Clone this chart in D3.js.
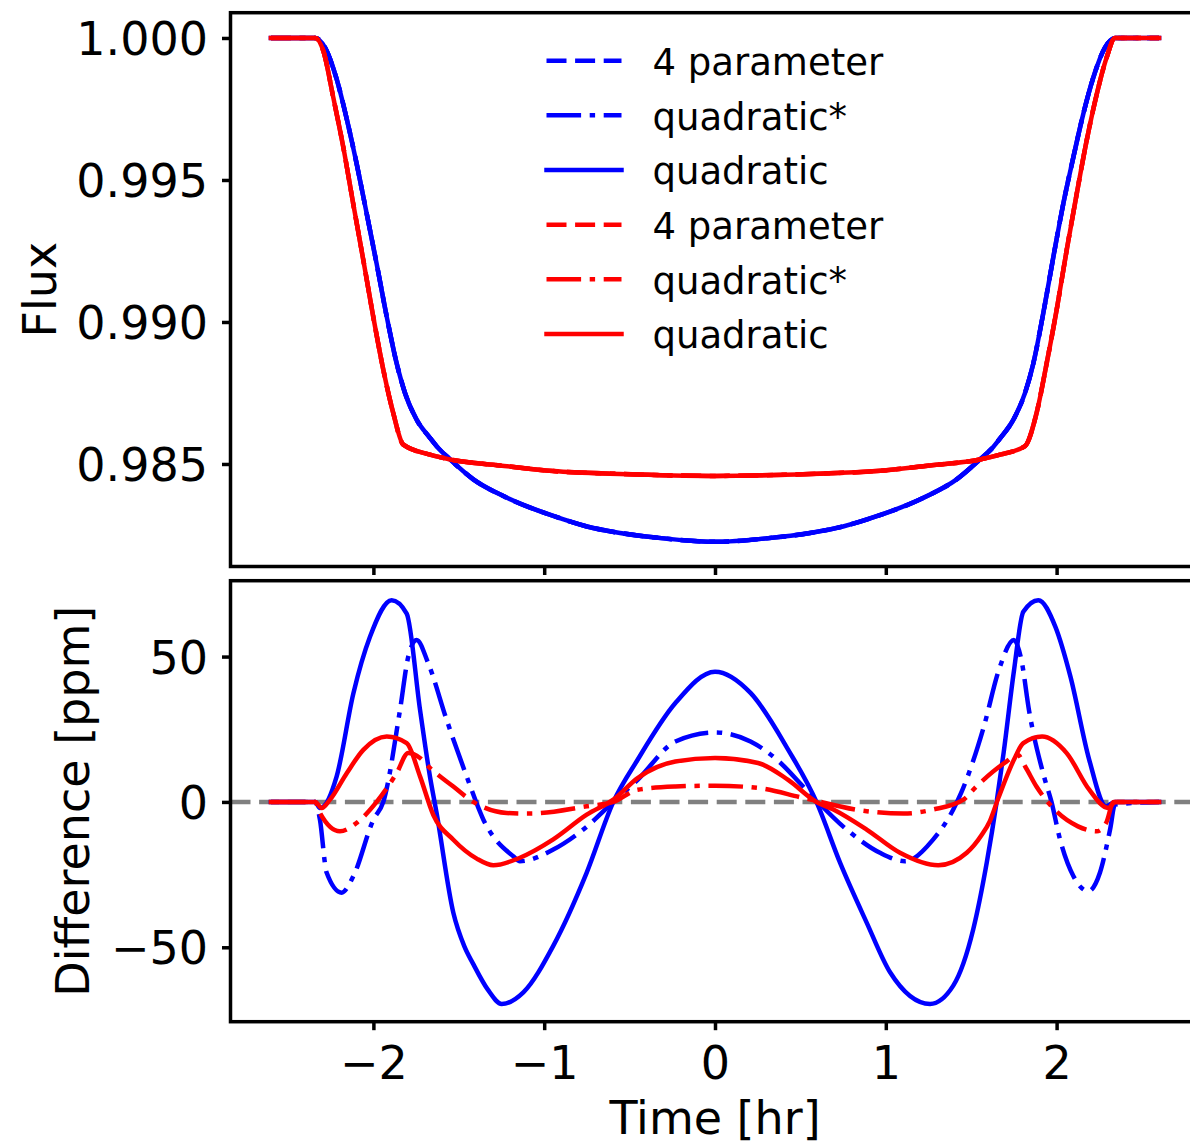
<!DOCTYPE html>
<html>
<head>
<meta charset="utf-8">
<script src="https://cdn.jsdelivr.net/npm/d3@7"></script>
<style>
    body { margin: 0; background: #fff; }
    svg text { font-family: "DejaVu Sans", sans-serif; fill: #000; }
</style>
</head>
<body>
<div id="chart"></div>
<script>
// ---- values ----
const timeTicks = [-2, -1, 0, 1, 2];
const fluxTicks = [1.000, 0.995, 0.990, 0.985];
const diffTicks = [-50, 0, 50];

// light curves (top panel), time in hr
const blueFluxTime = [-2.6, -2.34, -2.283, -2.215, -2.156, -2.098, -2.039, -1.981, -1.922, -1.864, -1.815, -1.747,
    -1.669, -1.629, -1.551, -1.415, -1.239, -0.947, -0.75, -0.556, -0.3, 0,
    0.3, 0.556, 0.75, 0.947, 1.239, 1.415, 1.551, 1.629, 1.669, 1.747, 1.815, 1.864, 1.922, 1.981, 2.039, 2.098,
    2.156, 2.215, 2.283, 2.342, 2.6];
const blueFlux = [1.0, 1.0, 0.99966, 0.99855, 0.99715, 0.99557, 0.99381, 0.99205, 0.99019, 0.98855, 0.98750, 0.98656,
    0.98592, 0.98562, 0.98516, 0.98446, 0.98387, 0.98317, 0.98280, 0.98257, 0.98238, 0.98226,
    0.98238, 0.98257, 0.98280, 0.98316, 0.98386, 0.98446, 0.98516, 0.98560, 0.98590, 0.98656, 0.98750, 0.98855, 0.99031, 0.99229, 0.99416, 0.99580,
    0.99732, 0.99861, 0.99966, 1.0, 1.0];

const redFluxTime = [-2.6, -2.34, -2.293, -2.235, -2.176, -2.118, -2.059, -2.001, -1.942, -1.884, -1.825, -1.669,
    -1.551, -1.26, -0.947, -0.556, 0,
    0.556, 0.947, 1.26, 1.551, 1.669, 1.815, 1.883, 1.942, 2.0, 2.059, 2.118, 2.176, 2.235, 2.293, 2.342, 2.6];
const redFlux = [1.0, 1.0, 0.99954, 0.99791, 0.99615, 0.99416, 0.99218, 0.99019, 0.98832, 0.98680, 0.98568, 0.98533,
    0.98516, 0.98495, 0.98475, 0.98465, 0.98458,
    0.98465, 0.98475, 0.98495, 0.98516, 0.98533, 0.98563, 0.98680, 0.98855, 0.99042, 0.99253, 0.99452, 0.99639, 0.99802, 0.99931, 1.0, 1.0];

// differences from the 4 parameter law (bottom panel), ppm
const blueQuadTime = [-2.6, -2.34, -2.313, -2.215, -2.117, -2.02, -1.893, -1.805, -1.727, -1.669, -1.63, -1.532, -1.468,
    -1.415, -1.331, -1.249, -1.122, -0.947, -0.751, -0.595, -0.453, -0.232, 0, 0.208, 0.428, 0.594, 0.732, 0.888, 1.025, 1.259,
    1.395, 1.512, 1.591, 1.649, 1.69, 1.75, 1.805, 1.893, 1.993, 2.081, 2.191, 2.29, 2.34, 2.6];
const blueQuadDiff = [0, 0, -2.1, 8.8, 37.4, 56.8, 69.4, 64.8, 31.7, 8.8, -3.8, -38.1, -49.6,
    -55.8, -64.5, -69.5, -65.5, -49.5, -24.3, 0, 14.5, 34, 44.8, 37.5, 18, 0, -20.9, -41.5, -58.6, -69.5,
    -63.2, -43.8, -20.9, 0, 17, 45, 65.4, 69.4, 60.2, 43.1, 14.5, -1.5, 0, 0];

const blueQuadStarTime = [-2.6, -2.34, -2.313, -2.274, -2.186, -2.117, -2.0, -1.942, -1.844, -1.796, -1.747, -1.679,
    -1.571, -1.454, -1.356, -1.181, -1.142, -0.947, -0.771, -0.595, -0.453, -0.232, 0, 0.208, 0.384, 0.516, 0.771,
    0.966, 1.112, 1.278, 1.395, 1.441, 1.574, 1.662, 1.75, 1.794, 1.838, 1.926, 1.97, 2.02, 2.098, 2.186, 2.254,
    2.313, 2.342, 2.6];
const blueQuadStarDiff = [0, 0, -6.1, -24.3, -31.2, -25.5, -6.1, 0, 31.7, 49.9, 55.7, 47.7,
    28.2, 8.8, -6.1, -18.7, -20.4, -16.4, -9.5, 0, 7.6, 20.8, 23.9, 20.8, 13.4, 5.3, -9.5,
    -17.5, -20.4, -12.9, -2.6, 3.1, 25.9, 45.4, 55.7, 48.8, 31.7, 8.8, 0, -12.9, -25.5, -30.7, -24.3,
    -9.5, -0.9, 0];

const redQuadTime = [-2.6, -2.34, -2.303, -2.254, -2.156, -2.059, -1.922, -1.805, -1.727, -1.649, -1.532, -1.395,
    -1.298, -1.142, -0.947, -0.751, -0.595, -0.453, -0.232, 0, 0.252, 0.428, 0.594, 0.693, 0.888, 1.083, 1.307,
    1.474, 1.56, 1.61, 1.66, 1.75, 1.805, 1.915, 2.059, 2.191, 2.301, 2.345, 2.6];
const redQuadDiff = [0, 0, -2.1, 0.8, 9.9, 17.9, 22.5, 20.2, 8.8, -4.5, -13, -19.5,
    -21.8, -19.2, -12.9, -4.4, 0.8, 8.2, 13.9, 15.1, 13.4, 7.6, 0, -2.6, -9.5, -17.5, -21.8,
    -17.5, -11.5, -6.5, 1.5, 14.5, 20.2, 22.5, 16.8, 4.2, -2.1, 0, 0];

const redQuadStarTime = [-2.6, -2.34, -2.313, -2.196, -2.098, -1.981, -1.864, -1.796, -1.727, -1.669, -1.532, -1.415,
    -1.22, -1.083, -0.751, -0.595, -0.453, -0.232, 0, 0.252, 0.516, 0.888, 1.103, 1.278, 1.454, 1.53, 1.695,
    1.772, 1.816, 1.882, 1.97, 2.125, 2.235, 2.29, 2.334, 2.6];
const redQuadStarDiff = [0, 0, -3.8, -10.1, -7.2, 0, 9.9, 16.8, 15.1, 11.7, 5.3, 0,
    -3.8, -4.0, -1.5, 0, 4.2, 5.3, 5.6, 4.8, 1.4, -3.2, -4.0, -2.6, 0.8, 5.3, 13.4,
    16.2, 12.2, 5.3, -1.5, -8.4, -10.1, -7.2, 0, 0];

const legendLabels = ['4 parameter', 'quadratic*', 'quadratic', '4 parameter', 'quadratic*', 'quadratic'];

class TransitChart {
    constructor(_config) {
        this.config = {
            parentElement: _config.parentElement,
            containerWidth: 1190,
            containerHeight: 1146,
            left: 230.5,
            right: 1199.5,
            top: {y0: 12.7, y1: 566.5},
            bottom: {y0: 580.7, y1: 1021.7},
            fontSize: 46
        };
        this.dashes = {dashed: '20,8.6', dashdot: '34.6,8.6,5.4,8.6', solid: null};
        this.initVis();
    }

    initVis() {
        let vis = this;
        const c = vis.config;

        vis.svg = d3.select(c.parentElement)
            .append('svg')
            .attr('width', c.containerWidth)
            .attr('height', c.containerHeight);

        vis.svg.append('rect')
            .attr('width', c.containerWidth)
            .attr('height', c.containerHeight)
            .attr('fill', '#fff');

        // scales
        vis.x = d3.scaleLinear().domain([-2.8366, 2.8366]).range([c.left, c.right]);
        vis.yTop = d3.scaleLinear().domain([0.98139, 1.00089]).range([c.top.y1, c.top.y0]);
        vis.yBot = d3.scaleLinear().domain([-75.6, 76.1]).range([c.bottom.y1, c.bottom.y0]);

        // clip paths
        const defs = vis.svg.append('defs');
        [['clip-top', c.top], ['clip-bot', c.bottom]].forEach(([id, p]) => {
            defs.append('clipPath').attr('id', id)
                .append('rect')
                .attr('x', c.left).attr('y', p.y0)
                .attr('width', c.right - c.left).attr('height', p.y1 - p.y0);
        });

        // top panel lines: the three laws overlap at this scale
        const topSeries = [
            {color: 'blue', dash: 'dashed', t: blueFluxTime, v: blueFlux},
            {color: 'blue', dash: 'dashdot', t: blueFluxTime, v: blueFlux},
            {color: 'blue', dash: 'solid', t: blueFluxTime, v: blueFlux},
            {color: 'red', dash: 'dashed', t: redFluxTime, v: redFlux},
            {color: 'red', dash: 'dashdot', t: redFluxTime, v: redFlux},
            {color: 'red', dash: 'solid', t: redFluxTime, v: redFlux}
        ];
        vis.drawLines(topSeries, vis.yTop, 'clip-top');

        // bottom panel: zero reference first
        vis.svg.append('line')
            .attr('x1', c.left).attr('x2', c.right)
            .attr('y1', vis.yBot(0)).attr('y2', vis.yBot(0))
            .attr('stroke', 'gray')
            .attr('stroke-width', 4.5)
            .attr('stroke-dasharray', vis.dashes.dashed)
            .attr('clip-path', 'url(#clip-bot)');

        const bottomSeries = [
            {color: 'blue', dash: 'dashdot', t: blueQuadStarTime, v: blueQuadStarDiff},
            {color: 'blue', dash: 'solid', t: blueQuadTime, v: blueQuadDiff},
            {color: 'red', dash: 'dashdot', t: redQuadStarTime, v: redQuadStarDiff},
            {color: 'red', dash: 'solid', t: redQuadTime, v: redQuadDiff}
        ];
        vis.drawLines(bottomSeries, vis.yBot, 'clip-bot');

        // axes
        const styleAxis = (g) => {
            g.select('.domain').remove();
            g.selectAll('.tick line').attr('stroke', '#000').attr('stroke-width', 3.5);
            g.selectAll('.tick text')
                .attr('fill', '#000')
                .style('font-size', c.fontSize + 'px')
                .style('font-family', '"DejaVu Sans", sans-serif');
        };

        vis.svg.append('g')
            .attr('transform', `translate(${c.left},0)`)
            .call(d3.axisLeft(vis.yTop).tickValues(fluxTicks).tickFormat(d3.format('.3f')).tickSize(8.5).tickPadding(14))
            .call(styleAxis)
            .selectAll('.tick text').attr('dy', '0.36em');

        vis.svg.append('g')
            .attr('transform', `translate(${c.left},0)`)
            .call(d3.axisLeft(vis.yBot).tickValues(diffTicks).tickFormat(d3.format('d')).tickSize(8.5).tickPadding(14))
            .call(styleAxis)
            .selectAll('.tick text').attr('dy', '0.36em');

        vis.svg.append('g')
            .attr('transform', `translate(0,${c.top.y1})`)
            .call(d3.axisBottom(vis.x).tickValues(timeTicks).tickFormat('').tickSize(8.5))
            .call(styleAxis);

        vis.svg.append('g')
            .attr('transform', `translate(0,${c.bottom.y1})`)
            .call(d3.axisBottom(vis.x).tickValues(timeTicks).tickFormat(d3.format('d')).tickSize(8.5).tickPadding(16))
            .call(styleAxis);

        // spines
        [c.top, c.bottom].forEach(p => {
            vis.svg.append('rect')
                .attr('x', c.left).attr('y', p.y0)
                .attr('width', c.right - c.left).attr('height', p.y1 - p.y0)
                .attr('fill', 'none')
                .attr('stroke', '#000')
                .attr('stroke-width', 3.5);
        });

        // axis labels
        vis.svg.append('text')
            .attr('transform', `translate(56,${(c.top.y0 + c.top.y1) / 2}) rotate(-90)`)
            .attr('text-anchor', 'middle')
            .style('font-size', c.fontSize + 'px')
            .text('Flux');

        vis.svg.append('text')
            .attr('transform', `translate(89,${(c.bottom.y0 + c.bottom.y1) / 2}) rotate(-90)`)
            .attr('text-anchor', 'middle')
            .style('font-size', c.fontSize + 'px')
            .text('Difference [ppm]');

        vis.svg.append('text')
            .attr('x', (c.left + c.right) / 2)
            .attr('y', 1134)
            .attr('text-anchor', 'middle')
            .style('font-size', c.fontSize + 'px')
            .text('Time [hr]');

        vis.drawLegend(topSeries);
    }

    drawLines(series, yScale, clipId) {
        let vis = this;
        series.forEach(s => {
            const pts = s.t.map((t, i) => [t, s.v[i]]);
            const line = d3.line()
                .x(d => vis.x(d[0]))
                .y(d => yScale(d[1]))
                .curve(d3.curveMonotoneX);
            vis.svg.append('path')
                .datum(pts)
                .attr('d', line)
                .attr('fill', 'none')
                .attr('stroke', s.color)
                .attr('stroke-width', 4.5)
                .attr('stroke-linejoin', 'round')
                .attr('stroke-linecap', s.dash === 'solid' ? 'square' : 'butt')
                .attr('stroke-dasharray', vis.dashes[s.dash])
                .attr('clip-path', `url(#${clipId})`);
        });
    }

    drawLegend(series) {
        let vis = this;
        const legend = vis.svg.append('g').attr('class', 'legend');
        const rowY = i => 60.7 + i * 54.66;

        series.forEach((s, i) => {
            legend.append('line')
                .attr('x1', 546.5).attr('x2', 621.5)
                .attr('y1', rowY(i)).attr('y2', rowY(i))
                .attr('stroke', s.color)
                .attr('stroke-width', 4.5)
                .attr('stroke-linecap', s.dash === 'solid' ? 'square' : 'butt')
                .attr('stroke-dasharray', vis.dashes[s.dash]);

            legend.append('text')
                .attr('x', 652.5)
                .attr('y', rowY(i) + 14.3)
                .style('font-size', '37px')
                .text(legendLabels[i]);
        });
    }
}

new TransitChart({parentElement: '#chart'});
</script>
</body>
</html>
